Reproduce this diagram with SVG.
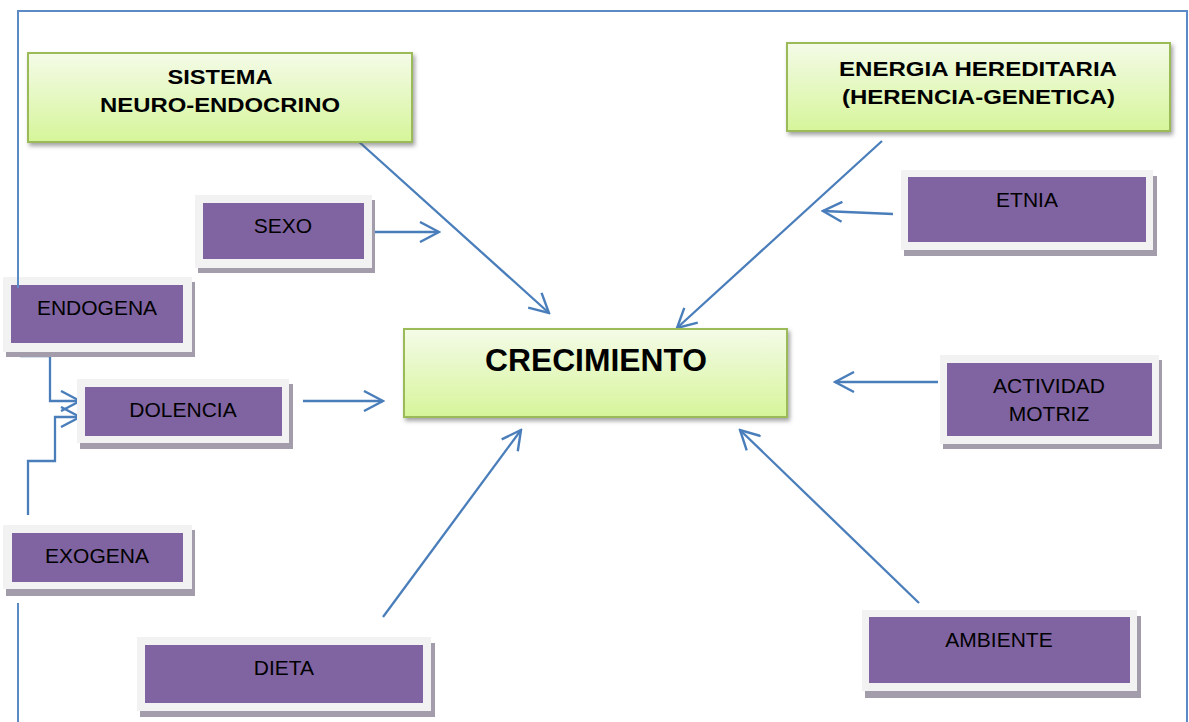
<svg xmlns="http://www.w3.org/2000/svg" width="1189" height="722" viewBox="0 0 1189 722">
<defs>
<linearGradient id="g" x1="0" y1="0" x2="0" y2="1">
<stop offset="0" stop-color="#f4fbe8"/>
<stop offset="1" stop-color="#d6f59a"/>
</linearGradient>
<filter id="sh" x="-10%" y="-20%" width="120%" height="150%">
<feDropShadow dx="2" dy="3" stdDeviation="2" flood-color="#555" flood-opacity="0.55"/>
</filter>
<marker id="ah" viewBox="0 0 22 22" refX="20" refY="11" markerWidth="22" markerHeight="22" markerUnits="userSpaceOnUse" orient="auto">
<path d="M1,1 L20,11 L1,21" fill="none" stroke="#4a7ebb" stroke-width="2.4"/>
</marker>
<style>
.bd{fill:none;stroke:#5b8ac6;stroke-width:2}
.gr{fill:url(#g);stroke:#9bbb59;stroke-width:2;filter:url(#sh)}
.sd{fill:#a39cab}
.fr{fill:#f2f2f2}
.pu{fill:#8064a2}
.t{font-family:"Liberation Sans",Arial,sans-serif;font-size:21px;fill:#000;text-anchor:middle}
.tb{font-family:"Liberation Sans",Arial,sans-serif;font-size:21px;font-weight:bold;fill:#000;text-anchor:middle}
.c{fill:none;stroke:#4a7ebb;stroke-width:2.3}
</style>
</defs>
<rect width="1189" height="722" fill="#fff"/>
<g id="connectors">
<line class="c" x1="357" y1="140" x2="549" y2="313" marker-end="url(#ah)"/>
<line class="c" x1="367" y1="232" x2="439" y2="232" marker-end="url(#ah)"/>
<line class="c" x1="882" y1="141" x2="677" y2="328" marker-end="url(#ah)"/>
<line class="c" x1="893" y1="214" x2="823" y2="211" marker-end="url(#ah)"/>
<line class="c" x1="303" y1="401" x2="383" y2="401" marker-end="url(#ah)"/>
<line class="c" x1="938" y1="382" x2="835" y2="382" marker-end="url(#ah)"/>
<line class="c" x1="383" y1="617" x2="521" y2="430" marker-end="url(#ah)"/>
<line class="c" x1="919" y1="603" x2="740" y2="430" marker-end="url(#ah)"/>
<path class="c" d="M20,356 L50,356 L50,401 L80,401" marker-end="url(#ah)"/>
<path class="c" d="M28,515 L28,461 L55,461 L55,417 L80,417" marker-end="url(#ah)"/>
</g>
<g id="sistema">
<rect class="gr" x="28" y="53" width="384" height="89"/>
<text class="tb" x="220" y="84" textLength="105" lengthAdjust="spacingAndGlyphs">SISTEMA</text>
<text class="tb" x="220" y="112" textLength="240" lengthAdjust="spacingAndGlyphs">NEURO-ENDOCRINO</text>
</g>
<g id="energia">
<rect class="gr" x="787" y="43" width="383" height="88"/>
<text class="tb" x="978" y="76" textLength="278" lengthAdjust="spacingAndGlyphs">ENERGIA HEREDITARIA</text>
<text class="tb" x="978.5" y="104" textLength="273" lengthAdjust="spacingAndGlyphs">(HERENCIA-GENETICA)</text>
</g>
<g id="crecimiento">
<rect class="gr" x="404" y="329" width="383" height="88"/>
<text class="tb" x="596" y="371" style="font-size:32px" textLength="222" lengthAdjust="spacingAndGlyphs">CRECIMIENTO</text>
</g>
<g id="sexo">
<rect class="sd" x="198" y="200" width="177" height="73"/>
<rect class="fr" x="195" y="195" width="177" height="73"/>
<rect class="pu" x="203" y="203" width="161" height="56"/>
<text class="t" x="283" y="233">SEXO</text>
</g>
<g id="endogena">
<rect class="sd" x="6" y="282" width="189" height="75"/>
<rect class="fr" x="3" y="277" width="189" height="75"/>
<rect class="pu" x="11" y="285" width="172" height="58"/>
<text class="t" x="97" y="315">ENDOGENA</text>
</g>
<g id="dolencia">
<rect class="sd" x="80" y="384" width="213" height="65"/>
<rect class="fr" x="77" y="379" width="212" height="64"/>
<rect class="pu" x="85" y="387" width="197" height="49"/>
<text class="t" x="183" y="417">DOLENCIA</text>
</g>
<g id="exogena">
<rect class="sd" x="6" y="530" width="189" height="66"/>
<rect class="fr" x="3" y="525" width="189" height="64"/>
<rect class="pu" x="12" y="533" width="171" height="49"/>
<text class="t" x="97" y="563">EXOGENA</text>
</g>
<g id="dieta">
<rect class="sd" x="140" y="643" width="295" height="74"/>
<rect class="fr" x="137" y="637" width="294" height="74"/>
<rect class="pu" x="145" y="645" width="278" height="58"/>
<text class="t" x="284" y="675">DIETA</text>
</g>
<g id="etnia">
<rect class="sd" x="904" y="176" width="253" height="80"/>
<rect class="fr" x="901" y="170" width="252" height="80"/>
<rect class="pu" x="908" y="177" width="238" height="65"/>
<text class="t" x="1027" y="207">ETNIA</text>
</g>
<g id="actividad">
<rect class="sd" x="943" y="360" width="219" height="89"/>
<rect class="fr" x="940" y="355" width="219" height="89"/>
<rect class="pu" x="947" y="363" width="205" height="73"/>
<text class="t" x="1049" y="393">ACTIVIDAD</text>
<text class="t" x="1049" y="421">MOTRIZ</text>
</g>
<g id="ambiente">
<rect class="sd" x="865" y="616" width="276" height="82"/>
<rect class="fr" x="862" y="610" width="275" height="81"/>
<rect class="pu" x="869" y="617" width="261" height="66"/>
<text class="t" x="999" y="647">AMBIENTE</text>
</g>
<g id="border">
<path class="bd" d="M18,288 L18,11 L1187,11 L1187,722"/>
<path class="bd" d="M18,603 L18,722"/>
</g>
</svg>
